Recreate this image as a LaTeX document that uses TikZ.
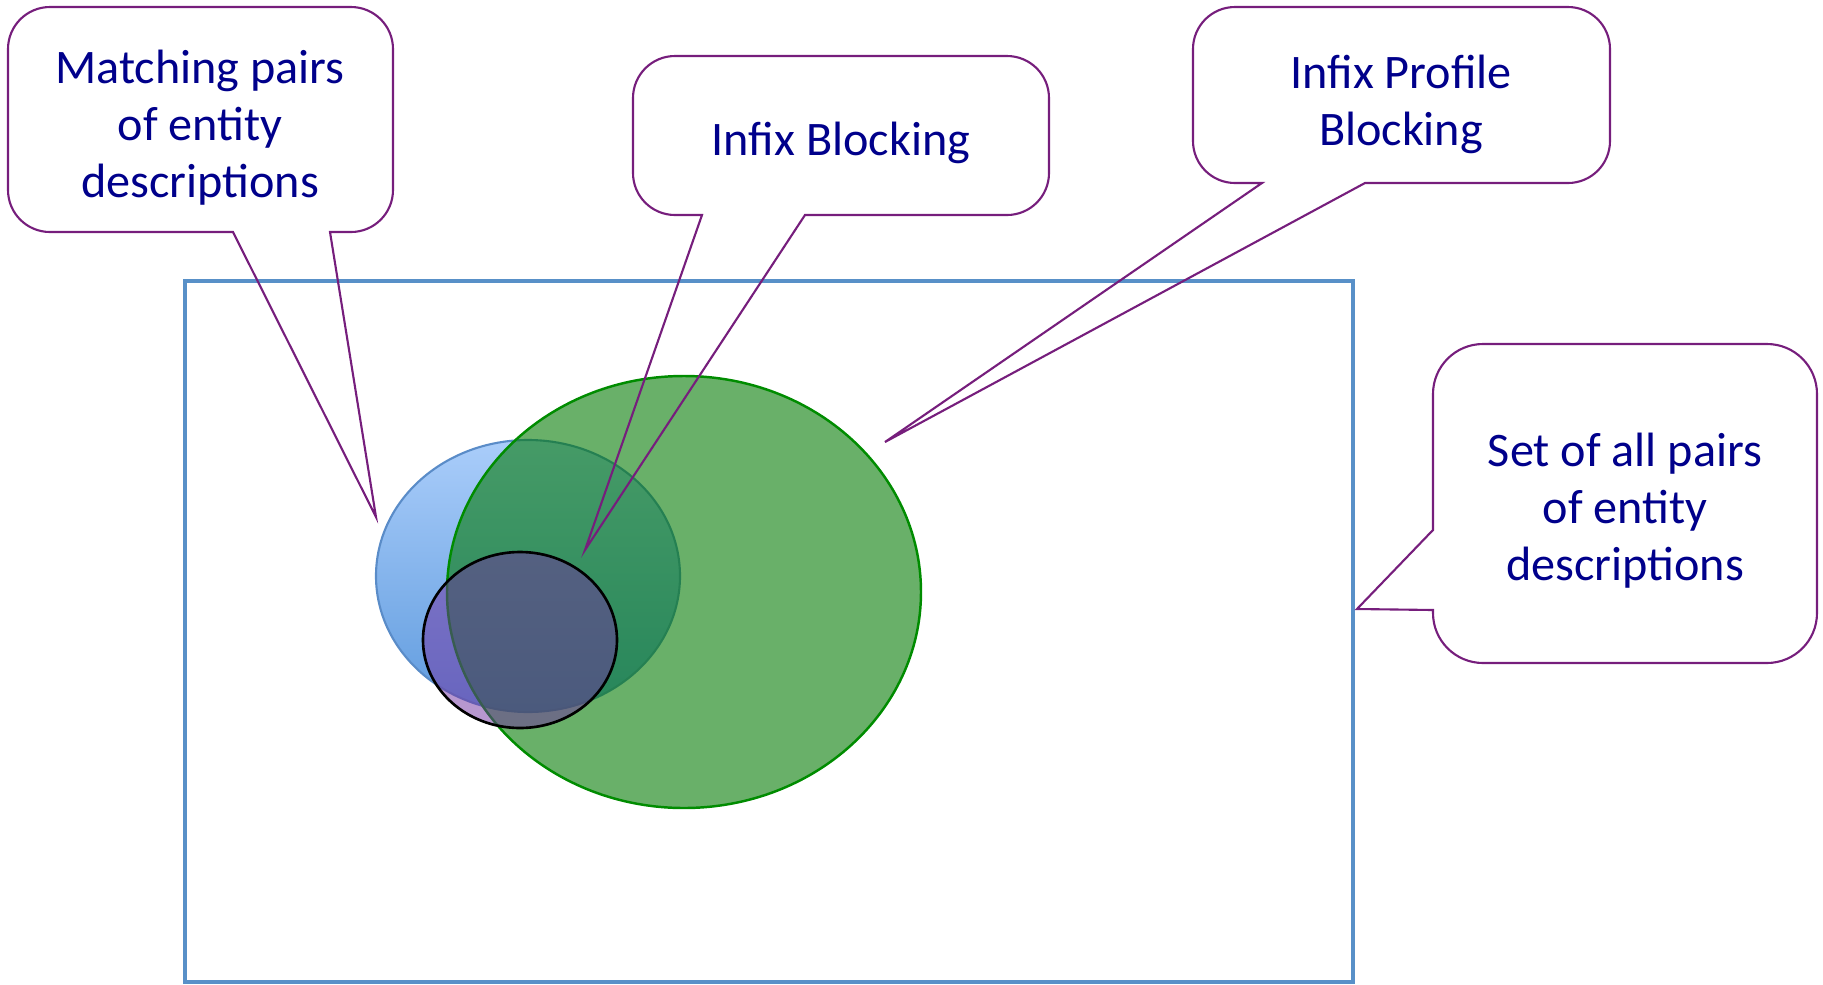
\documentclass[tikz,border=0pt]{standalone}
\usepackage{fontspec}
\setmainfont{Carlito}
\definecolor{txtblue}{RGB}{0,0,139}
\definecolor{bubblepurple}{RGB}{118,30,124}
\definecolor{rectblue}{RGB}{88,144,200}
\definecolor{lightblue}{RGB}{170,205,250}
\definecolor{darkblue}{RGB}{95,155,222}
\definecolor{blueedge}{RGB}{90,140,200}
\definecolor{greenfill}{RGB}{0,120,0}
\definecolor{greenedge}{RGB}{0,140,0}
\definecolor{violetfill}{RGB}{112,48,160}
\tikzset{
  bubble/.style={draw=bubblepurple, line width=0.6pt, line join=miter},
  bubbletext/.style={text=txtblue, align=center,
    font=\fontsize{13.7}{16.2}\selectfont},
  allpairs/.style={draw=rectblue, line width=1.15pt}
}

\begin{document}
\begin{tikzpicture}[x=0.01cm,y=-0.01cm]
\useasboundingbox (0,0) rectangle (1823,984);

% set of all pairs
\draw[allpairs] (185,281) rectangle (1353,982);

% the three sets
\draw[draw=blueedge, line width=0.6pt, top color=lightblue, bottom color=darkblue]
  (528,576) ellipse[x radius=152, y radius=136];
\draw[draw=greenedge, line width=0.7pt, fill=greenfill, fill opacity=0.59]
  (684,592) ellipse[x radius=237, y radius=216];
\draw[draw=black, line width=0.75pt, fill=violetfill, fill opacity=0.5]
  (520,640) ellipse[x radius=97, y radius=88];

% tips of the callouts
\coordinate (mtip) at (376,517);
\coordinate (itip) at (585,550);
\coordinate (ptip) at (885,442);
\coordinate (stip) at (1357,609);

% Matching pairs
\draw[bubble] (50,7) -- (351,7) arc[start angle=270, end angle=360, radius=42]
  -- (393,190) arc[start angle=0, end angle=90, radius=42]
  -- (330,232) -- (mtip) -- (233,232)
  -- (50,232) arc[start angle=90, end angle=180, radius=42]
  -- (8,49) arc[start angle=180, end angle=270, radius=42] -- cycle;
\node[bubbletext] (matchtxt) at (200,128) {Matching pairs\\of entity\\descriptions};

% Infix Blocking
\draw[bubble] (675,56) -- (1007,56) arc[start angle=270, end angle=360, radius=42]
  -- (1049,173) arc[start angle=0, end angle=90, radius=42]
  -- (805,215) -- (itip) -- (702,215)
  -- (675,215) arc[start angle=90, end angle=180, radius=42]
  -- (633,98) arc[start angle=180, end angle=270, radius=42] -- cycle;
\node[bubbletext] (infixtxt) at (841,143) {Infix Blocking};

% Infix Profile Blocking
\draw[bubble] (1235,7) -- (1568,7) arc[start angle=270, end angle=360, radius=42]
  -- (1610,141) arc[start angle=0, end angle=90, radius=42]
  -- (1365,183) -- (ptip) -- (1262,183)
  -- (1235,183) arc[start angle=90, end angle=180, radius=42]
  -- (1193,49) arc[start angle=180, end angle=270, radius=42] -- cycle;
\node[bubbletext] (profiletxt) at (1401,104) {Infix Profile\\Blocking};

% Set of all pairs
\draw[bubble] (1483,344) -- (1767,344) arc[start angle=270, end angle=360, radius=50]
  -- (1817,613) arc[start angle=0, end angle=90, radius=50]
  -- (1483,663) arc[start angle=90, end angle=180, radius=50]
  -- (1433,610) -- (stip) -- (1433,530)
  -- (1433,394) arc[start angle=180, end angle=270, radius=50] -- cycle;
\node[bubbletext] (alltxt) at (1625,511) {Set of all pairs\\of entity\\descriptions};

\end{tikzpicture}
\end{document}
